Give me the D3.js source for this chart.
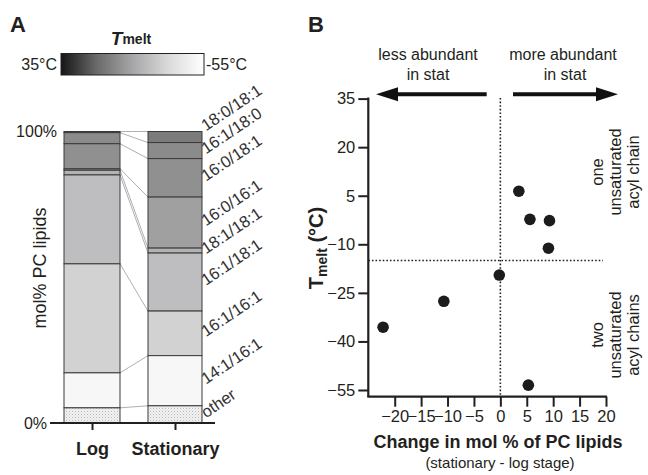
<!DOCTYPE html>
<html><head><meta charset="utf-8">
<script src="https://cdn.jsdelivr.net/npm/d3@7"></script>
<style>
html,body{margin:0;padding:0;background:#fff;}
svg{display:block;font-family:"Liberation Sans",Arial,Helvetica,sans-serif;}
</style></head>
<body>
<svg id="c" width="648" height="475"></svg>
<script>
// ---------- DATA ----------
const species = ["18:0/18:1","16:1/18:0","16:0/18:1","16:0/16:1","18:1/18:1","16:1/18:1","16:1/16:1","14:1/16:1","other"];
const stages = ["Log","Stationary"];
const logPct = [0.4, 3.8, 8.6, 0.5, 1.6, 30.5, 37.4, 12.0, 5.2];
const statPct = [3.8, 5.5, 13.2, 17.5, 1.7, 19.9, 15.3, 17.2, 5.9];
const speciesFill = ["#7b7b7b","#8b8b8b","#909090","#a0a0a0","#b3b3b3","#bebec0","#d2d2d3","#f7f7f7","url(#dots)"];
const pctTicks = [0, 100];
const pctTickLabels = ["0%", "100%"];

const changeX = [3.5, 5.6, 9.3, 9.1, -0.2, -10.7, -22.2, 5.3];
const tmeltY  = [6.4, -2.3, -2.7, -11.2, -19.5, -27.6, -35.6, -53.5];
const xTicksB = [-20, -15, -10, -5, 0, 5, 10, 15, 20];
const yTicksB = [35, 20, 5, -10, -25, -40, -55];
const splitTmelt = -15;

const gradStops = [[0,"#151515"],[0.25,"#6a6a6a"],[0.5,"#a6a6a8"],[0.75,"#dadadb"],[1,"#ffffff"]];

// ---------- SETUP ----------
const svg = d3.select("#c");
const ink = "#231f20";
const defs = svg.append("defs");
const pat = defs.append("pattern").attr("id","dots").attr("patternUnits","userSpaceOnUse").attr("width",3).attr("height",3);
pat.append("rect").attr("width",3).attr("height",3).attr("fill","#f2f2f2");
pat.append("rect").attr("x",0).attr("y",0).attr("width",1).attr("height",1).attr("fill","#b8b8b8");
pat.append("rect").attr("x",1.5).attr("y",1.5).attr("width",1).attr("height",1).attr("fill","#cfcfcf");
const lg = defs.append("linearGradient").attr("id","tm");
gradStops.forEach(s=>lg.append("stop").attr("offset",s[0]).attr("stop-color",s[1]));

// Panel letters
svg.append("text").attr("x",10).attr("y",32).attr("font-size",22).attr("font-weight","bold").attr("fill",ink).text("A");
svg.append("text").attr("x",308).attr("y",32).attr("font-size",22).attr("font-weight","bold").attr("fill",ink).text("B");

// ---------- PANEL A ----------
svg.append("rect").attr("x",61).attr("y",53.5).attr("width",143).attr("height",21.5)
  .attr("fill","url(#tm)").attr("stroke","#222").attr("stroke-width",1);
svg.append("text").attr("x",57).attr("y",70).attr("text-anchor","end").attr("font-size",16).attr("fill",ink).text("35°C");
svg.append("text").attr("x",206).attr("y",70).attr("font-size",16).attr("fill",ink).text("-55°C");
const tt = svg.append("text").attr("x",131).attr("y",45).attr("text-anchor","middle").attr("fill",ink).attr("font-weight","bold");
tt.append("tspan").attr("font-size",19).attr("font-style","italic").text("T");
tt.append("tspan").attr("font-size",14).attr("dy",-1).text("melt");

const yA = d3.scaleLinear().domain([0,100]).range([423,131.5]);
const xA = d3.scalePoint().domain(stages).range([92,175]);
const barW = [56, 54];

function stackOf(vals){ let c=100; return vals.map(v=>{const top=c; c-=v; return {top, bot:c};}); }
const stacks = [stackOf(logPct), stackOf(statPct)];

const gConn = svg.append("g");
const boundsLog = [100].concat(stacks[0].map(d=>d.bot)).slice(0,-1);
const boundsStat = [100].concat(stacks[1].map(d=>d.bot)).slice(0,-1);
boundsLog.forEach((b,i)=>{
  gConn.append("line")
    .attr("x1", xA("Log")+barW[0]/2).attr("y1", yA(b))
    .attr("x2", xA("Stationary")-barW[1]/2).attr("y2", yA(boundsStat[i]))
    .attr("stroke","#9a9a9a").attr("stroke-width",0.8);
});

stages.forEach((s,si)=>{
  const g = svg.append("g");
  g.selectAll("rect").data(stacks[si]).join("rect")
    .attr("x", xA(s)-barW[si]/2).attr("width", barW[si])
    .attr("y", d=>yA(d.top)).attr("height", d=>yA(d.bot)-yA(d.top))
    .attr("fill",(d,i)=>speciesFill[i])
    .attr("stroke","#3a3a3a").attr("stroke-width",1);
});

let labY = stacks[1].map(d=>yA((d.top+d.bot)/2)+4);
for(let i=labY.length-2;i>=0;i--){ if(labY[i+1]-labY[i] < 23) labY[i] = labY[i+1]-23; }
species.forEach((sp,i)=>{
  svg.append("text").attr("transform",`translate(206,${labY[i]}) rotate(-34)`)
    .attr("font-size",16.5).attr("fill","#333").text(sp);
});

svg.append("line").attr("x1",50).attr("x2",215).attr("y1",yA(0)).attr("y2",yA(0)).attr("stroke",ink).attr("stroke-width",2);
const axA = svg.append("g").attr("transform",`translate(0,${yA(0)})`)
  .call(d3.axisBottom(xA).tickSize(7).tickSizeOuter(0).tickPadding(12));
axA.select(".domain").remove();
axA.selectAll(".tick line").attr("stroke",ink).attr("stroke-width",2);
axA.selectAll(".tick text").attr("font-size",18).attr("font-weight","bold").attr("fill",ink)
  .attr("font-family","Liberation Sans,Arial,sans-serif");
pctTicks.forEach((t,i)=>{
  svg.append("text").attr("x", t===100?57:47).attr("y", yA(t)+5.5).attr("text-anchor","end")
    .attr("font-size",16).attr("fill",ink).text(pctTickLabels[i]);
});
svg.append("text").attr("transform","translate(46,268) rotate(-90)").attr("text-anchor","middle")
  .attr("font-size",18).attr("fill",ink).text("mol% PC lipids");

// ---------- PANEL B ----------
const xB = d3.scaleLinear().domain([-25,20]).range([368.3,606]);
const yB = d3.scaleLinear().domain([-55,35]).range([390,98.6]);
const axisY = 396.7;

svg.append("line").attr("x1",xB(0)).attr("x2",xB(0)).attr("y1",98).attr("y2",axisY)
  .attr("stroke",ink).attr("stroke-width",1.6).attr("stroke-dasharray","1.6,2");
svg.append("line").attr("x1",xB(-25)).attr("x2",603).attr("y1",yB(splitTmelt)).attr("y2",yB(splitTmelt))
  .attr("stroke",ink).attr("stroke-width",1.6).attr("stroke-dasharray","1.6,2");

const gx = svg.append("g").attr("transform",`translate(0,${axisY})`)
  .call(d3.axisBottom(xB).tickValues(xTicksB).tickSize(10).tickSizeOuter(0).tickPadding(4));
gx.select(".domain").remove();
svg.append("line").attr("x1",xB(-25)-1).attr("x2",xB(20)+1).attr("y1",axisY).attr("y2",axisY).attr("stroke",ink).attr("stroke-width",2.2);
const gy = svg.append("g").attr("transform",`translate(${xB(-25)},0)`)
  .call(d3.axisLeft(yB).tickValues(yTicksB).tickSize(10).tickSizeOuter(0).tickPadding(3));
gy.select(".domain").remove();
svg.append("line").attr("x1",xB(-25)).attr("x2",xB(-25)).attr("y1",yB(35)-1).attr("y2",axisY).attr("stroke",ink).attr("stroke-width",2.2);
[gx,gy].forEach(g=>{
  g.selectAll(".tick line").attr("stroke",ink).attr("stroke-width",2);
  g.selectAll(".tick text").attr("font-size",16.5).attr("fill",ink).attr("font-family","Liberation Sans,Arial,sans-serif");
});

svg.append("g").selectAll("circle").data(changeX.map((x,i)=>[x,tmeltY[i]])).join("circle")
  .attr("cx",d=>xB(d[0])).attr("cy",d=>yB(d[1])).attr("r",5.8).attr("fill","#1c1c1c");

svg.append("text").attr("x",498).attr("y",448).attr("text-anchor","middle").attr("font-size",18)
  .attr("font-weight","bold").attr("fill",ink).text("Change in mol % of PC lipids");
svg.append("text").attr("x",500).attr("y",468).attr("text-anchor","middle").attr("font-size",15)
  .attr("fill",ink).text("(stationary - log stage)");
const yt = svg.append("text").attr("transform","translate(323,248) rotate(-90)").attr("text-anchor","middle")
  .attr("font-weight","bold").attr("fill",ink);
yt.append("tspan").attr("font-size",20).text("T");
yt.append("tspan").attr("font-size",14).attr("dy",4).text("melt");
yt.append("tspan").attr("font-size",20).attr("dy",-4).text(" (°C)");

function arrow(x1,x2,y){
  const dir = Math.sign(x2-x1), head=22, hh=7;
  svg.append("line").attr("x1",x1).attr("x2",x2-dir*head+dir*1).attr("y1",y).attr("y2",y)
    .attr("stroke","#111").attr("stroke-width",4);
  svg.append("path").attr("d",`M${x2},${y} L${x2-dir*head},${y-hh} L${x2-dir*head},${y+hh} Z`).attr("fill","#111");
}
arrow(486.7,376,94.3);
arrow(513,618,94.3);
[["less abundant",428,60],["in stat",428,80],["more abundant",563,60],["in stat",565,80]].forEach(t=>{
  svg.append("text").attr("x",t[1]).attr("y",t[2]).attr("text-anchor","middle").attr("font-size",16).attr("fill",ink).text(t[0]);
});

function sideNote(lines, cy){
  lines.forEach((l,i)=>{
    svg.append("text").attr("transform",`translate(${603+i*18},${cy}) rotate(-90)`).attr("text-anchor","middle")
      .attr("font-size",16.5).attr("fill",ink).text(l);
  });
}
sideNote(["one","unsaturated","acyl chain"],172);
sideNote(["two","unsaturated","acyl chains"],335);
</script>
</body></html>
